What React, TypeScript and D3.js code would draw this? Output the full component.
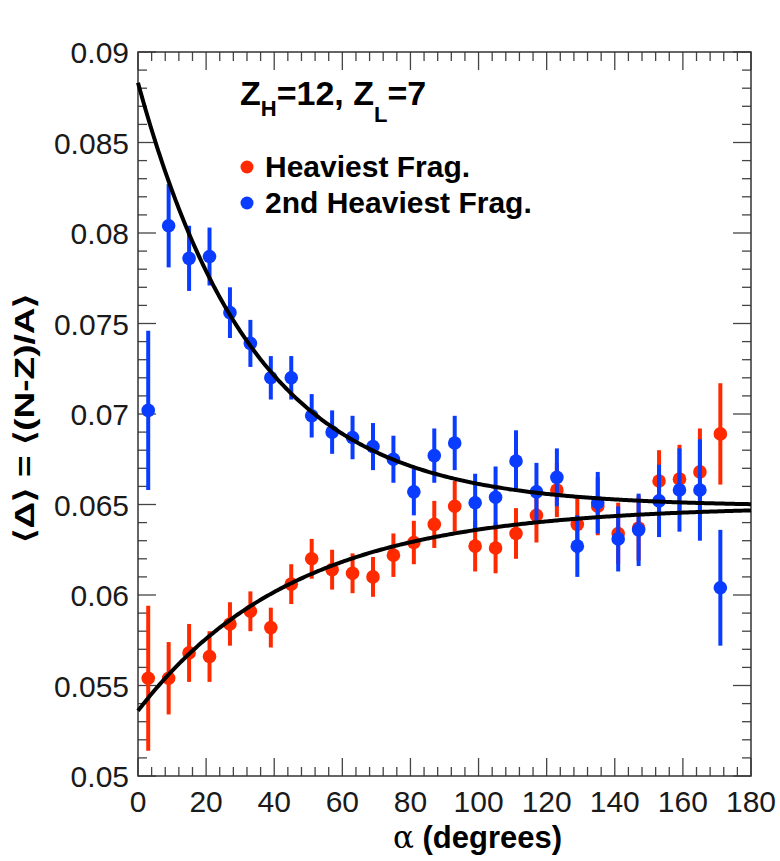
import React from "react";
import * as d3 from "d3";

const angles = [3, 9, 15, 21, 27, 33, 39, 45, 51, 57, 63, 69, 75, 81, 87, 93, 99, 105, 111, 117, 123, 129, 135, 141, 147, 153, 159, 165, 171];
const heaviestVals = [0.0554, 0.0554, 0.0568, 0.0566, 0.0584, 0.0591, 0.0582, 0.0606, 0.0620, 0.0614, 0.0612, 0.0610, 0.0622, 0.0629, 0.0639, 0.0649, 0.0627, 0.0626, 0.0634, 0.0644, 0.0658, 0.0639, 0.0649, 0.0634, 0.0637, 0.0663, 0.0664, 0.0668, 0.0689];
const heaviestErr = [0.0040, 0.0020, 0.0016, 0.0014, 0.0012, 0.0011, 0.0011, 0.0011, 0.0011, 0.0011, 0.0011, 0.0011, 0.0012, 0.0012, 0.0013, 0.0014, 0.0014, 0.0014, 0.0014, 0.0015, 0.0015, 0.0016, 0.0016, 0.0017, 0.0018, 0.0017, 0.0019, 0.0024, 0.0028];
const secondVals = [0.0702, 0.0804, 0.0786, 0.0787, 0.0756, 0.0739, 0.0720, 0.0720, 0.0699, 0.0690, 0.0687, 0.0682, 0.0675, 0.0657, 0.0677, 0.0684, 0.0651, 0.0654, 0.0674, 0.0657, 0.0665, 0.0627, 0.0651, 0.0631, 0.0636, 0.0652, 0.0658, 0.0658, 0.0604];
const secondErr = [0.0044, 0.0023, 0.0018, 0.0016, 0.0014, 0.0013, 0.0012, 0.0012, 0.0012, 0.0012, 0.0012, 0.0013, 0.0013, 0.0013, 0.0015, 0.0015, 0.0016, 0.0017, 0.0017, 0.0016, 0.0016, 0.0017, 0.0017, 0.0018, 0.0020, 0.0020, 0.0023, 0.0028, 0.0032];

// exponential fit parameters: asymptote, amplitude, decay constant (degrees)
const fitAsymptote = [0.0649, 0.0649];
const fitAmplitude = [0.0234, -0.0113];
const fitTau = [34, 46];

const xTicks = [0, 20, 40, 60, 80, 100, 120, 140, 160, 180];
const yTicks = [0.05, 0.055, 0.06, 0.065, 0.07, 0.075, 0.08, 0.085, 0.09];
const yTickLabels = ["0.05", "0.055", "0.06", "0.065", "0.07", "0.075", "0.08", "0.085", "0.09"];

const RED = "#ff2a00";
const BLUE = "#0a3cff";
const FONT = "'Liberation Sans', Arial, Helvetica, sans-serif";

export default function App() {
  const L = 138, R = 751, T = 52, B = 776;
  const x = d3.scaleLinear().domain([0, 180]).range([L, R]);
  const y = d3.scaleLinear().domain([0.05, 0.09]).range([B, T]);

  const minorX = d3.range(0, 181, 4).filter((v) => v % 20 !== 0);
  const minorY = d3.range(50, 91, 1).map((v) => v / 1000).filter((v) => Math.round(v * 1000) % 5 !== 0);

  const curves = fitAsymptote.map((a, i) => {
    const xs = d3.range(0, 180.01, 0.5);
    const line = d3.line<number>().x((v) => x(v)).y((v) => y(a + fitAmplitude[i] * Math.exp(-v / fitTau[i])));
    return line(xs) || "";
  });

  const series = [
    { vals: heaviestVals, errs: heaviestErr, color: RED },
    { vals: secondVals, errs: secondErr, color: BLUE },
  ];

  const tickColor = "#444";
  const majorLen = 18, minorLen = 9;

  return (
    <svg width={780} height={861} style={{ position: "absolute", left: 0, top: 0, background: "#fff" }}>
      <rect x={0} y={0} width={780} height={861} fill="#fff" />
      {xTicks.map((t) => (
        <g key={"xt" + t}>
          <line x1={x(t)} x2={x(t)} y1={B} y2={B - majorLen} stroke={tickColor} strokeWidth={1.3} />
          <line x1={x(t)} x2={x(t)} y1={T} y2={T + majorLen} stroke={tickColor} strokeWidth={1.3} />
        </g>
      ))}
      {minorX.map((t) => (
        <g key={"xm" + t}>
          <line x1={x(t)} x2={x(t)} y1={B} y2={B - minorLen} stroke={tickColor} strokeWidth={1.3} />
          <line x1={x(t)} x2={x(t)} y1={T} y2={T + minorLen} stroke={tickColor} strokeWidth={1.3} />
        </g>
      ))}
      {yTicks.map((t) => (
        <g key={"yt" + t}>
          <line x1={L} x2={L + majorLen} y1={y(t)} y2={y(t)} stroke={tickColor} strokeWidth={1.3} />
          <line x1={R} x2={R - majorLen} y1={y(t)} y2={y(t)} stroke={tickColor} strokeWidth={1.3} />
        </g>
      ))}
      {minorY.map((t) => (
        <g key={"ym" + t}>
          <line x1={L} x2={L + minorLen} y1={y(t)} y2={y(t)} stroke={tickColor} strokeWidth={1.3} />
          <line x1={R} x2={R - minorLen} y1={y(t)} y2={y(t)} stroke={tickColor} strokeWidth={1.3} />
        </g>
      ))}
      <rect x={L} y={T} width={R - L} height={B - T} fill="none" stroke="#333" strokeWidth={1.5} />

      {xTicks.map((t) => (
        <text key={"xl" + t} x={x(t)} y={812} textAnchor="middle" fontFamily={FONT} fontSize={30} fill="#1a1a1a">
          {t}
        </text>
      ))}
      {yTicks.map((t, i) => (
        <text key={"yl" + t} x={129} y={y(t) + 11} textAnchor="end" fontFamily={FONT} fontSize={30} fill="#1a1a1a">
          {yTickLabels[i]}
        </text>
      ))}

      {series.map((s, si) => (
        <g key={"s" + si}>
          {angles.map((a, i) => (
            <line key={"e" + i} x1={x(a)} x2={x(a)} y1={y(s.vals[i] - s.errs[i])} y2={y(s.vals[i] + s.errs[i])} stroke={s.color} strokeWidth={4} />
          ))}
          {angles.map((a, i) => (
            <circle key={"c" + i} cx={x(a)} cy={y(s.vals[i])} r={6.8} fill={s.color} />
          ))}
        </g>
      ))}

      {curves.map((d, i) => (
        <path key={"f" + i} d={d} fill="none" stroke="#000" strokeWidth={4} />
      ))}

      <text x={240} y={105} fontFamily={FONT} fontSize={34} fontWeight="bold" fill="#000">
        Z<tspan fontSize={22} dy={11}>H</tspan><tspan dy={-11}>=12, Z</tspan><tspan fontSize={22} dy={17}>L</tspan><tspan dy={-17}>=7</tspan>
      </text>

      <circle cx={247} cy={167} r={6.5} fill={RED} />
      <text x={265} y={177} fontFamily={FONT} fontSize={30} fontWeight="bold" fill="#000">Heaviest Frag.</text>
      <circle cx={247} cy={203} r={6.5} fill={BLUE} />
      <text x={265} y={213} fontFamily={FONT} fontSize={30} fontWeight="bold" fill="#000">2nd Heaviest Frag.</text>

      <text x={393} y={848} fontFamily={FONT} fontSize={31} fill="#000">
        <tspan fontFamily="'DejaVu Serif', serif" fontWeight="normal">α</tspan>
        <tspan fontWeight="bold"> (degrees)</tspan>
      </text>
      <text transform={`translate(34, 418) rotate(-90)`} textAnchor="middle" fontFamily={FONT} fontSize={28} fontWeight="bold" fill="#000"
        textLength={250} lengthAdjust="spacingAndGlyphs">
        ⟨Δ⟩ = ⟨(N-Z)/A⟩
      </text>
    </svg>
  );
}
